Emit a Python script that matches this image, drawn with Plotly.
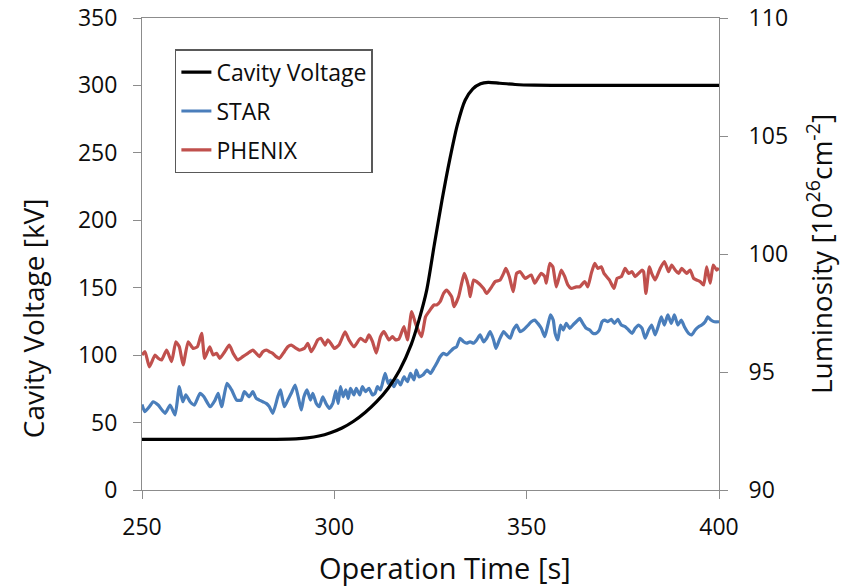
import plotly.graph_objects as go

# Cavity voltage [kV] vs operation time [s]
TIME_VOLT = [250, 270, 285, 290, 293, 296, 299, 302, 305, 308, 311, 314, 317, 320,
             322, 324, 326, 328, 330, 332, 334, 336, 338, 340, 343, 347, 352, 360,
             380, 400]
CAVITY_VOLTAGE = [37.5, 37.5, 37.6, 37.9, 38.6, 40, 42.5, 46, 51, 57.5, 65.5, 75.5, 89, 108,
                  126, 148, 182, 215, 245, 271, 289, 297.5, 301.3, 302.3, 301.6, 300.7,
                  300.2, 300, 300, 300]

# STAR luminosity [1e26 cm^-2]
TIME_STAR = [250.0, 250.7, 252.0, 252.9, 254.2, 256.0, 257.3, 258.6, 259.7, 260.6,
             261.4, 262.5, 263.6, 265.1, 266.1, 267.7, 269.0, 269.8, 270.7, 272.1,
             273.3, 274.6, 275.8, 276.6, 277.9, 278.8, 279.7, 280.5, 281.4, 282.3,
             283.1, 284.0, 285.3, 286.0, 287.0, 287.9, 288.8, 289.8, 290.7, 291.4,
             292.1, 292.9, 293.8, 294.4, 295.3, 296.1, 297.0, 297.8, 298.7, 299.6,
             300.4, 301.0, 301.6, 302.3, 303.0, 303.6, 304.2, 305.1, 305.7, 306.6,
             307.3, 308.1, 309.0, 309.9, 310.6, 311.2, 312.0, 313.2, 314.0, 314.6,
             315.5, 316.4, 317.2, 318.1, 319.0, 319.8, 320.7, 321.3, 322.0, 323.0,
             324.1, 325.0, 326.0, 326.6, 327.5, 328.4, 329.2, 330.1, 331.0, 331.8,
             332.7, 333.6, 334.4, 335.3, 336.2, 337.0, 337.9, 338.8, 339.6, 340.5,
             341.4, 342.0, 342.9, 344.0, 344.8, 345.7, 346.5, 347.4, 348.3, 349.1,
             350.4, 351.2, 352.1, 352.9, 353.8, 354.7, 355.5, 356.2, 356.9, 357.4,
             358.1, 358.8, 359.5, 360.3, 361.2, 362.0, 362.9, 363.8, 364.6, 365.5,
             366.4, 367.2, 368.1, 368.9, 369.6, 370.3, 371.1, 372.0, 372.8, 373.7,
             374.6, 375.6, 376.5, 377.4, 378.2, 379.1, 380.0, 380.8, 381.7, 382.5,
             383.4, 384.3, 385.0, 385.8, 386.7, 387.6, 388.4, 389.3, 390.2, 391.0,
             392.1, 392.9, 393.8, 394.7, 395.5, 396.4, 397.1, 397.9, 398.8, 400.0]
STAR_LUMI = [93.62, 93.32, 93.55, 93.74, 93.60, 93.25, 93.60, 93.18, 94.38, 93.74,
             94.03, 93.74, 93.60, 94.10, 93.95, 93.53, 93.81, 94.10, 93.53, 94.52,
             94.24, 93.81, 93.81, 94.17, 93.95, 94.17, 93.88, 93.81, 93.74, 93.67,
             93.53, 93.25, 93.95, 94.24, 93.53, 93.81, 94.10, 94.45, 93.88, 93.39,
             93.95, 94.24, 93.81, 94.10, 93.67, 93.53, 93.95, 93.67, 93.46, 93.67,
             94.20, 93.67, 94.38, 93.95, 94.24, 93.88, 94.31, 94.03, 94.31, 94.03,
             94.38, 94.17, 94.31, 94.03, 94.10, 94.38, 94.24, 94.94, 94.52, 94.66,
             94.38, 94.66, 94.45, 94.80, 94.59, 94.94, 94.66, 95.08, 94.80, 94.87,
             95.08, 94.94, 95.20, 95.37, 95.65, 95.79, 95.72, 95.86, 96.00, 96.07,
             96.43, 96.28, 96.22, 96.28, 96.22, 96.36, 96.57, 96.28, 96.43, 96.71,
             96.36, 96.00, 96.36, 96.71, 96.57, 96.43, 96.78, 96.99, 96.71, 96.78,
             96.99, 97.13, 97.20, 97.06, 96.85, 96.50, 96.99, 97.42, 97.20, 96.64,
             96.36, 96.99, 96.78, 97.06, 96.85, 96.99, 97.13, 97.27, 97.06, 96.85,
             96.78, 96.64, 96.64, 96.78, 97.13, 97.20, 97.13, 97.23, 97.06, 97.23,
             96.99, 96.92, 96.78, 96.64, 96.85, 96.99, 96.85, 96.43, 96.78, 96.99,
             96.57, 96.99, 97.34, 96.99, 97.42, 97.06, 97.42, 96.99, 97.20, 96.92,
             96.64, 96.57, 96.78, 96.92, 96.99, 97.13, 97.34, 97.20, 97.13, 97.13]

# PHENIX luminosity [1e26 cm^-2]
TIME_PHENIX = [250.0, 250.8, 251.9, 253.4, 254.2, 255.1, 256.4, 257.7, 258.8, 259.7,
               260.7, 262.0, 263.3, 264.4, 265.5, 266.3, 267.6, 268.5, 269.4, 270.2,
               271.5, 272.7, 273.7, 274.9, 276.2, 277.5, 278.8, 279.7, 280.5, 281.4,
               282.3, 283.1, 284.0, 284.9, 285.7, 287.0, 287.9, 288.8, 290.1, 290.9,
               292.2, 293.1, 294.0, 294.8, 295.7, 296.5, 297.6, 298.3, 299.1, 300.0,
               301.2, 302.8, 303.8, 305.1, 306.8, 308.1, 309.0, 309.9, 310.9, 312.0,
               312.9, 314.2, 315.1, 315.9, 316.8, 318.1, 319.0, 320.1, 321.1, 322.0,
               322.7, 323.7, 324.6, 325.9, 326.6, 327.5, 328.4, 329.2, 330.5, 331.1,
               332.3, 333.1, 333.8, 334.9, 335.3, 336.2, 337.0, 338.8, 339.6, 340.9,
               341.8, 343.1, 344.0, 344.6, 345.5, 346.5, 347.4, 348.3, 349.6, 350.4,
               351.2, 352.1, 352.9, 353.8, 354.7, 355.1, 356.0, 356.8, 357.7, 359.0,
               359.9, 360.7, 361.6, 362.9, 363.8, 365.1, 365.9, 366.8, 367.7, 368.5,
               369.4, 370.1, 371.5, 372.7, 373.5, 374.6, 375.6, 376.5, 377.4, 378.2,
               379.1, 380.0, 380.4, 381.0, 381.9, 382.5, 383.4, 384.7, 385.8, 386.9,
               387.7, 388.6, 389.5, 390.3, 391.6, 392.5, 393.4, 394.2, 395.1, 396.0,
               396.8, 397.7, 398.5, 399.4, 400.0]
PHENIX_LUMI = [95.72, 95.86, 95.22, 95.72, 95.58, 95.51, 95.93, 95.44, 96.28, 96.07,
               95.30, 96.28, 96.00, 96.07, 96.64, 95.58, 96.07, 95.72, 95.79, 95.58,
               95.86, 96.14, 95.79, 95.51, 95.65, 95.79, 95.93, 95.79, 95.65, 95.86,
               95.93, 95.86, 95.79, 95.65, 95.58, 95.86, 96.07, 96.14, 96.00, 95.93,
               96.00, 96.21, 95.86, 96.07, 96.36, 96.43, 96.14, 96.36, 96.21, 96.00,
               96.14, 96.70, 96.36, 96.07, 96.43, 96.28, 96.57, 96.30, 95.80, 96.50,
               96.71, 96.36, 96.50, 96.36, 96.40, 96.92, 96.36, 97.56, 97.06, 96.70,
               96.50, 97.34, 97.56, 97.84, 97.84, 97.98, 98.33, 98.47, 98.19, 97.77,
               98.19, 98.76, 99.18, 98.61, 98.19, 98.90, 98.83, 98.54, 98.33, 98.61,
               98.83, 98.90, 99.18, 99.39, 99.04, 98.40, 99.18, 99.25, 98.97, 99.04,
               99.11, 98.76, 98.97, 99.18, 99.04, 98.76, 99.60, 99.46, 98.61, 99.32,
               99.04, 98.69, 98.54, 98.61, 98.61, 98.83, 98.61, 99.18, 99.60, 99.39,
               99.46, 99.18, 98.90, 98.54, 98.97, 99.04, 99.39, 99.18, 99.25, 99.04,
               99.18, 99.32, 99.25, 98.33, 99.46, 99.18, 98.90, 99.39, 99.68, 99.25,
               99.53, 99.32, 99.18, 99.39, 99.18, 99.32, 98.97, 98.90, 98.83, 98.69,
               99.46, 98.76, 99.53, 99.32, 99.40]

FONT = "Open Sans"
AXIS_GRAY = "#8C8C8C"
TEXT = "#0d0d0d"

fig = go.Figure()

fig.add_trace(go.Scatter(
    x=TIME_STAR, y=STAR_LUMI, name="STAR", mode="lines", yaxis="y",
    line=dict(color="#4A7EBB", width=3.2, shape="spline", smoothing=0.5),
    legendgroup="star", legendrank=2,
))
fig.add_trace(go.Scatter(
    x=TIME_PHENIX, y=PHENIX_LUMI, name="PHENIX", mode="lines", yaxis="y",
    line=dict(color="#C0504D", width=3.2, shape="spline", smoothing=0.5),
    legendgroup="phenix", legendrank=3,
))
fig.add_trace(go.Scatter(
    x=TIME_VOLT, y=CAVITY_VOLTAGE, name="Cavity Voltage", mode="lines", yaxis="y2",
    line=dict(color="black", width=3.2, shape="spline", smoothing=0.7),
    legendgroup="volt", legendrank=1,
))

axis_common = dict(
    showline=True, linecolor=AXIS_GRAY, linewidth=1,
    ticks="outside", ticklen=8, tickcolor=AXIS_GRAY, tickwidth=1,
    showgrid=False, zeroline=False, automargin=False,
    tickfont=dict(family=FONT, size=23, color=TEXT),
)

fig.update_layout(
    width=852, height=586,
    margin=dict(l=142, r=133, t=18, b=96),
    paper_bgcolor="white", plot_bgcolor="white",
    font=dict(family=FONT, color=TEXT),
    xaxis=dict(
        range=[250, 400], tick0=250, dtick=50, mirror=True,
        ticklabelstandoff=8,
        **axis_common,
    ),
    yaxis=dict(
        range=[90, 110], tick0=90, dtick=5, side="right",
        title=dict(text="Luminosity [10<sup>26</sup>cm<sup>-2</sup>]",
                   font=dict(family=FONT, size=28), standoff=25),
        ticklabelstandoff=16,
        **axis_common,
    ),
    yaxis2=dict(
        range=[0, 350], tick0=0, dtick=50, side="left", overlaying="y",
        ticklabelstandoff=11,
        **axis_common,
    ),
    legend=dict(
        x=0.057, y=0.934, xanchor="left", yanchor="top",
        bgcolor="white", bordercolor="#595959", borderwidth=1.5,
        font=dict(family=FONT, size=23, color=TEXT),
        traceorder="grouped", tracegroupgap=6,
    ),
    showlegend=True,
    annotations=[
        dict(text="Cavity Voltage [kV]", textangle=-90, showarrow=False,
             xref="paper", yref="paper", x=-0.189, y=0.364,
             xanchor="center", yanchor="middle",
             font=dict(family=FONT, size=28, color=TEXT)),
        dict(text="Operation Time [s]", showarrow=False,
             xref="paper", yref="paper", x=0.525, y=-0.165,
             xanchor="center", yanchor="middle",
             font=dict(family=FONT, size=29, color=TEXT)),
    ],
)

fig.write_html("out.html")
